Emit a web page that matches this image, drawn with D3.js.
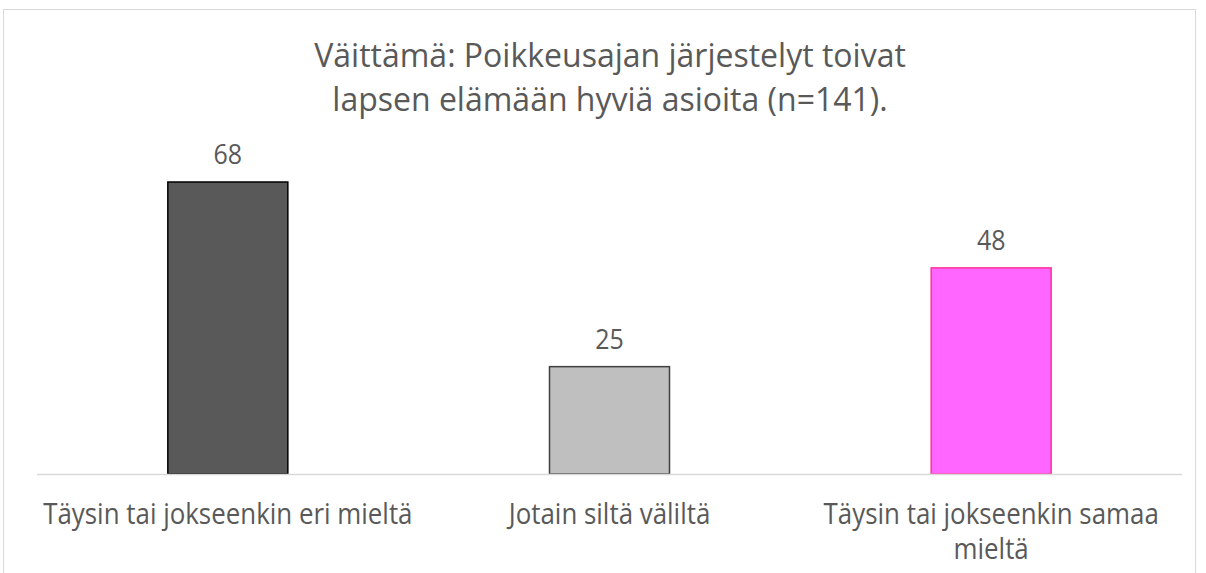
<!DOCTYPE html>
<html><head><meta charset="utf-8">
<script src="https://cdn.jsdelivr.net/npm/d3@7"></script>
<style>body{margin:0;background:#fff}svg{display:block}</style>
</head><body>
<svg id="c" width="1206" height="573"></svg>
<script>
const categories = ["Täysin tai jokseenkin eri mieltä", "Jotain siltä väliltä", "Täysin tai jokseenkin samaa mieltä"];
const categoryLines = [["Täysin tai jokseenkin eri mieltä"], ["Jotain siltä väliltä"], ["Täysin tai jokseenkin samaa", "mieltä"]];
const values = [68, 25, 48];
const fills = ["#595959", "#bfbfbf", "#ff66ff"];
const strokes = ["#000000", "#404040", "#ff3399"];
const titleLines = ["Väittämä: Poikkeusajan järjestelyt toivat", "lapsen elämään hyviä asioita (n=141)."];

const svg = d3.select("#c");
const font = "'Open Sans', sans-serif";
const txt = "#595959";
const sy = 1.1;

svg.append("rect").attr("x", 3.5).attr("y", 9.5).attr("width", 1192).attr("height", 580)
  .attr("fill", "#fff").attr("stroke", "#d9d9d9").attr("stroke-width", 1);

const left = 37, right = 1182, baseY = 474;
const x = d3.scaleBand().domain(categories).range([left, right]).padding(0);
const y = d3.scaleLinear().domain([0, 68]).range([baseY, 182]);
const barW = 120;

svg.append("g").selectAll("text").data(titleLines).join("text")
  .attr("x", 610).attr("y", (d, i) => 67 + i * 44)
  .attr("text-anchor", "middle").attr("font-family", font).attr("font-size", 32)
  .attr("fill", txt).text(d => d);

svg.append("g").selectAll("rect").data(values).join("rect")
  .attr("x", (d, i) => x(categories[i]) + x.bandwidth() / 2 - barW / 2)
  .attr("y", d => y(d))
  .attr("width", barW)
  .attr("height", d => baseY - y(d))
  .attr("fill", (d, i) => fills[i])
  .attr("stroke", (d, i) => strokes[i])
  .attr("stroke-width", 1.5);

svg.append("line").attr("x1", left).attr("x2", right).attr("y1", baseY + 0.5).attr("y2", baseY + 0.5)
  .attr("stroke", "#d9d9d9").attr("stroke-width", 1.5);

svg.append("g").selectAll("g").data(values).join("g")
  .attr("transform", (d, i) => `translate(${x(categories[i]) + x.bandwidth() / 2},${y(d) - 18}) scale(1,${sy})`)
  .append("text")
  .attr("text-anchor", "middle").attr("font-family", font).attr("font-size", 25)
  .attr("fill", txt).text(d => d);

const lab = svg.append("g").selectAll("g").data(categoryLines).join("g")
  .attr("transform", (d, i) => `translate(${x(categories[i]) + x.bandwidth() / 2},524) scale(1,${sy})`)
  .append("text")
  .attr("text-anchor", "middle").attr("font-family", font).attr("font-size", 25.9)
  .attr("fill", txt);
lab.selectAll("tspan").data(d => d).join("tspan")
  .attr("x", 0)
  .attr("dy", (d, i) => i === 0 ? 0 : 32)
  .text(d => d);
</script>
</body></html>
